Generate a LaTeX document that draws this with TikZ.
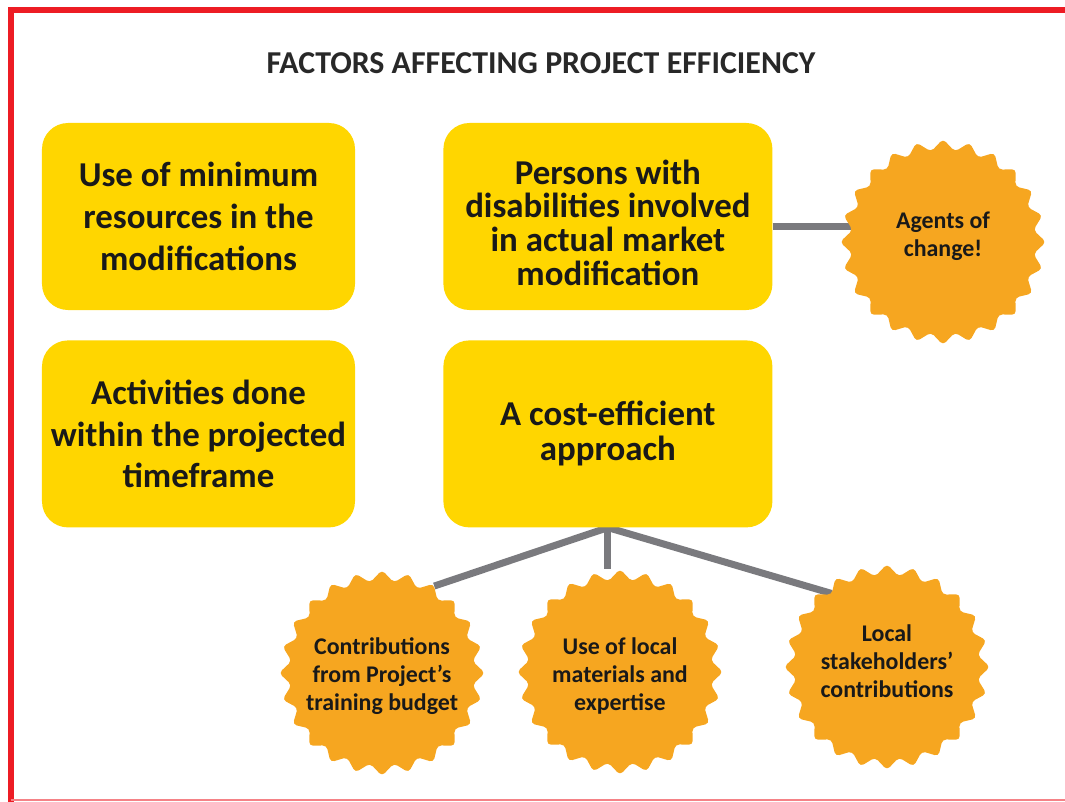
\documentclass[tikz,border=0pt]{standalone}
\usepackage{fontspec}
\setmainfont{Carlito}
\usetikzlibrary{shapes.geometric,positioning,backgrounds}

\definecolor{boxyellow}{RGB}{255,214,0}
\definecolor{burstorange}{RGB}{246,166,32}
\definecolor{linkgray}{RGB}{122,122,126}
\definecolor{framered}{RGB}{237,28,36}
\definecolor{titlegray}{RGB}{40,40,40}

\tikzset{
  factor/.style={rounded corners=26bp, fill=boxyellow, minimum width=313bp, minimum height=187bp,
    align=center, text=black!90, font=\bfseries\fontsize{35}{42}\selectfont},
  widefactor/.style={factor, minimum width=329bp, font=\bfseries\fontsize{35}{34}\selectfont},
  burst/.style={star, star points=24, star point ratio=1.13, fill=burstorange, minimum size=206bp,
    inner sep=0pt, rounded corners=4bp},
  bursttext/.style={align=center, text=black!90, font=\bfseries\fontsize{24}{28}\selectfont},
  link/.style={draw=linkgray, line width=7bp},
}

\begin{document}
\begin{tikzpicture}[x=1bp,y=-1bp]
  \useasboundingbox (0,0) rectangle (1065,802);
  \draw[framered, line width=6bp] (1065,10.5) -- (10.5,10.5) -- (10.5,802);
  \draw[framered!55, line width=2bp] (10.5,800) -- (1065,800);

  \node[font=\bfseries\fontsize{32}{36}\selectfont, text=titlegray] (title) at (541,63) {FACTORS AFFECTING PROJECT EFFICIENCY};

  % the four factors
  \node[factor] (minres) at (198.5,216.5) {Use of minimum\\resources in the\\modifications};
  \node[widefactor, right=88bp of minres] (pwd) {\mbox{}\\[3bp]Persons with\\disabilities involved\\in actual market\\modification};
  \node[factor, below=30bp of minres] (timeframe) {Activities done\\within the projected\\timeframe};
  \node[widefactor, font=\bfseries\fontsize{35}{35}\selectfont, below=30bp of pwd] (costeff) {A cost-efficient\\approach};

  % bursts
  \node[burst] (agents) at (943,242) {};
  \node[bursttext] at ([yshift=6bp]agents) {Agents of\\change!};
  \node[burst] (budget) at (382,673) {};
  \node[bursttext] at ([yshift=-3bp]budget) {Contributions\\from Project's\\training budget};
  \node[burst] (materials) at (620,672) {};
  \node[bursttext] at ([yshift=-4bp]materials) {Use of local\\materials and\\expertise};
  \node[burst] (stakeholders) at (887,667) {};
  \node[bursttext] at ([yshift=6bp]stakeholders) {Local\\stakeholders'\\contributions};

  \begin{scope}[on background layer]
    \coordinate (tap) at ([yshift=-10bp]pwd.east);
    \draw[link] (tap) -- (tap -| agents.center);
    \draw[link] (costeff.south) -- (budget.59);
    \draw[link] (costeff.south) -- (costeff.south |- materials.north);
    \draw[link] (costeff.south) -- (stakeholders.127);
  \end{scope}
\end{tikzpicture}
\end{document}
